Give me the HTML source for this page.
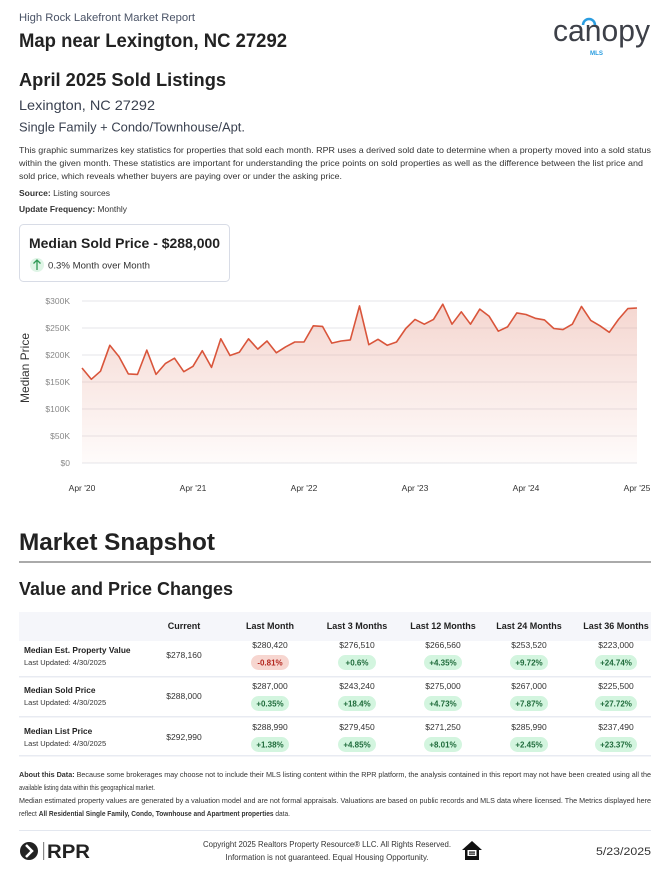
<!DOCTYPE html>
<html><head><meta charset="utf-8"><style>
html,body{margin:0;padding:0;background:#fff}
svg{display:block}
text{font-family:"Liberation Sans",sans-serif}
</style></head><body>
<svg id="s" width="672" height="870" viewBox="0 0 672 870" xmlns="http://www.w3.org/2000/svg">
<defs>
<linearGradient id="g" x1="0" y1="0" x2="0" y2="1">
<stop offset="0" stop-color="#e8a597" stop-opacity="0.45"/>
<stop offset="1" stop-color="#e8a597" stop-opacity="0.04"/>
</linearGradient>
</defs>
<text x="19" y="21" font-size="11" fill="#4a5366" textLength="176" lengthAdjust="spacingAndGlyphs">High Rock Lakefront Market Report</text>
<text x="19" y="47" font-size="19" font-weight="bold" fill="#222" textLength="268" lengthAdjust="spacingAndGlyphs">Map near Lexington, NC 27292</text>
<text x="553" y="41" font-size="31" fill="#3d4048" textLength="97" lengthAdjust="spacingAndGlyphs">canopy</text>
<path d="M583 25 a6 6 0 0 1 12 0" stroke="#2a9de0" stroke-width="2.5" fill="none"/>
<text x="590" y="55" font-size="6.5" font-weight="bold" fill="#2a9de0" textLength="13" lengthAdjust="spacingAndGlyphs">MLS</text>

<text x="19" y="86" font-size="18" font-weight="bold" fill="#222" textLength="207" lengthAdjust="spacingAndGlyphs">April 2025 Sold Listings</text>
<text x="19" y="110" font-size="14" fill="#3a4150" textLength="136" lengthAdjust="spacingAndGlyphs">Lexington, NC 27292</text>
<text x="19" y="131.5" font-size="12.5" fill="#3a4150" textLength="226" lengthAdjust="spacingAndGlyphs">Single Family + Condo/Townhouse/Apt.</text>
<g font-size="8.3" fill="#333">
<text x="19" y="153" textLength="632" lengthAdjust="spacingAndGlyphs">This graphic summarizes key statistics for properties that sold each month. RPR uses a derived sold date to determine when a property moved into a sold status</text>
<text x="19" y="166" textLength="624" lengthAdjust="spacingAndGlyphs">within the given month. These statistics are important for understanding the price points on sold properties as well as the difference between the list price and</text>
<text x="19" y="179" textLength="323" lengthAdjust="spacingAndGlyphs">sold price, which reveals whether buyers are paying over or under the asking price.</text>
<text x="19" y="196" textLength="91" lengthAdjust="spacingAndGlyphs"><tspan font-weight="bold">Source:</tspan> Listing sources</text>
<text x="19" y="212" textLength="108" lengthAdjust="spacingAndGlyphs"><tspan font-weight="bold">Update Frequency:</tspan> Monthly</text>
</g>
<rect x="19.5" y="224.5" width="210" height="57" rx="4" fill="#fff" stroke="#d8dce6"/>
<text x="29" y="248" font-size="14" font-weight="bold" fill="#222" textLength="191" lengthAdjust="spacingAndGlyphs">Median Sold Price - $288,000</text>
<circle cx="37" cy="265" r="7" fill="#dff5e6"/>
<path d="M37 270 V260 M33.5 263.5 L37 260 L40.5 263.5" stroke="#2e9a55" stroke-width="1.3" fill="none"/>
<text x="48" y="268.5" font-size="9.5" fill="#333" textLength="102" lengthAdjust="spacingAndGlyphs">0.3% Month over Month</text>

<g id="chart"></g>
<text transform="translate(29,368) rotate(-90)" font-size="12" fill="#333" text-anchor="middle">Median Price</text>

<text x="19" y="550" font-size="24" font-weight="bold" fill="#222" textLength="196" lengthAdjust="spacingAndGlyphs">Market Snapshot</text>
<rect x="19" y="561.5" width="632" height="1" fill="#555"/>
<text x="19" y="595" font-size="18" font-weight="bold" fill="#222" textLength="214" lengthAdjust="spacingAndGlyphs">Value and Price Changes</text>

<rect x="19" y="612" width="632" height="29" fill="#f5f6fa"/>
<g id="tbl"></g>

<g font-size="7.4" fill="#333">
<text x="19" y="777" textLength="632" lengthAdjust="spacingAndGlyphs"><tspan font-weight="bold">About this Data:</tspan> Because some brokerages may choose not to include their MLS listing content within the RPR platform, the analysis contained in this report may not have been created using all the</text>
<text x="19" y="790" textLength="136" lengthAdjust="spacingAndGlyphs">available listing data within this geographical market.</text>
<text x="19" y="803" textLength="632" lengthAdjust="spacingAndGlyphs">Median estimated property values are generated by a valuation model and are not formal appraisals. Valuations are based on public records and MLS data where licensed. The Metrics displayed here</text>
<text x="19" y="816" textLength="271" lengthAdjust="spacingAndGlyphs">reflect <tspan font-weight="bold">All Residential Single Family, Condo, Townhouse and Apartment properties</tspan> data.</text>
</g>
<rect x="19" y="830" width="632" height="1" fill="#e3e7ef"/>
<circle cx="29" cy="851" r="9" fill="#222"/>
<path d="M26 845 l6 6 l-6 6" stroke="#fff" stroke-width="2.5" fill="none"/>
<rect x="43" y="842" width="1.2" height="18" fill="#888"/>
<text x="47" y="858" font-size="19" font-weight="bold" fill="#222" textLength="43" lengthAdjust="spacingAndGlyphs">RPR</text>
<text x="327" y="847" font-size="8.3" fill="#333" text-anchor="middle" textLength="248" lengthAdjust="spacingAndGlyphs">Copyright 2025 Realtors Property Resource® LLC. All Rights Reserved.</text>
<text x="327" y="860" font-size="8.3" fill="#333" text-anchor="middle" textLength="203" lengthAdjust="spacingAndGlyphs">Information is not guaranteed. Equal Housing Opportunity.</text>
<path d="M472 841 L462 850 H465 V860 H479 V850 H482 Z" fill="#111"/>
<rect x="467.5" y="850" width="9" height="6" fill="#fff"/>
<rect x="469" y="851.5" width="6" height="1.2" fill="#111"/><rect x="469" y="853.5" width="6" height="1.2" fill="#111"/>
<text x="651" y="855" font-size="11" fill="#333" text-anchor="end" textLength="55" lengthAdjust="spacingAndGlyphs">5/23/2025</text>
</svg>
<script>
var NS="http://www.w3.org/2000/svg";
function el(p,t,a,txt){var e=document.createElementNS(NS,t);for(var k in a)e.setAttribute(k,a[k]);if(txt!=null)e.textContent=txt;p.appendChild(e);return e;}
var c=document.getElementById("chart");
var labs=["$300K","$250K","$200K","$150K","$100K","$50K","$0"];
for(var i=0;i<7;i++){var y=301+i*27;el(c,"rect",{x:82,y:y-0.5,width:555,height:1,fill:"#e6e6ea"});el(c,"text",{x:70,y:y+3,"font-size":8.5,fill:"#888","text-anchor":"end"},labs[i]);}
var xl=["Apr '20","Apr '21","Apr '22","Apr '23","Apr '24","Apr '25"];
for(var i=0;i<6;i++)el(c,"text",{x:82+i*111,y:491,"font-size":8.5,fill:"#333","text-anchor":"middle"},xl[i]);
var d=[176,155,170,218,197,165,164,209,164,184,194,169,179,208,177,230,199,205,230,211,226,204,215,224,224,254,253,222,226,228,291,219,229,218,224,249,266,257,266,294,257,280,257,285,272,244,252,278,275,268,265,249,247,257,290,264,254,242,266,286,287];
var n=d.length,pts=[];
for(var i=0;i<n;i++){pts.push((82+i*555/(n-1)).toFixed(1)+","+(463-d[i]*0.54).toFixed(1));}
el(c,"path",{d:"M82,463 L"+pts.join(" L")+" L637,463 Z",fill:"url(#g)"});
el(c,"path",{d:"M"+pts.join(" L"),fill:"none",stroke:"#d9553b","stroke-width":1.6,"stroke-linejoin":"round"});
var t=document.getElementById("tbl");
var cols=[184,270,357,443,529,616];
var hd=["Current","Last Month","Last 3 Months","Last 12 Months","Last 24 Months","Last 36 Months"];
for(var i=0;i<6;i++)el(t,"text",{x:cols[i],y:629,"font-size":9,"font-weight":"bold",fill:"#222","text-anchor":"middle"},hd[i]);
var rows=[["Median Est. Property Value","$278,160",["$280,420","$276,510","$266,560","$253,520","$223,000"],["-0.81%","+0.6%","+4.35%","+9.72%","+24.74%"]],
["Median Sold Price","$288,000",["$287,000","$243,240","$275,000","$267,000","$225,500"],["+0.35%","+18.4%","+4.73%","+7.87%","+27.72%"]],
["Median List Price","$292,990",["$288,990","$279,450","$271,250","$285,990","$237,490"],["+1.38%","+4.85%","+8.01%","+2.45%","+23.37%"]]];
var vy=[645,686,727],ly=[650,690,731],sep=[676,716,755];
for(var r=0;r<3;r++){var R=rows[r],y=vy[r];
el(t,"text",{x:24,y:ly[r]+3,"font-size":8.3,"font-weight":"bold",fill:"#222"},R[0]);
el(t,"text",{x:24,y:ly[r]+15,"font-size":7.5,fill:"#333"},"Last Updated: 4/30/2025");
el(t,"text",{x:cols[0],y:y+13,"font-size":8.5,fill:"#333","text-anchor":"middle"},R[1]);
for(var k=0;k<5;k++){var cx=cols[k+1];
el(t,"text",{x:cx,y:y+3,"font-size":8.5,fill:"#333","text-anchor":"middle"},R[2][k]);
var neg=R[3][k][0]=="-";var w=R[3][k].length>6?42:38;
el(t,"rect",{x:cx-w/2,y:y+10,width:w,height:15,rx:7.5,fill:neg?"#f7d6d0":"#d3f5df"});
el(t,"text",{x:cx,y:y+20.5,"font-size":8,"font-weight":"bold",fill:neg?"#b3261e":"#1f6b3b","text-anchor":"middle"},R[3][k]);}
el(t,"rect",{x:19,y:sep[r],width:632,height:1.5,fill:"#e8ebf2"});}
</script>
</body></html>
